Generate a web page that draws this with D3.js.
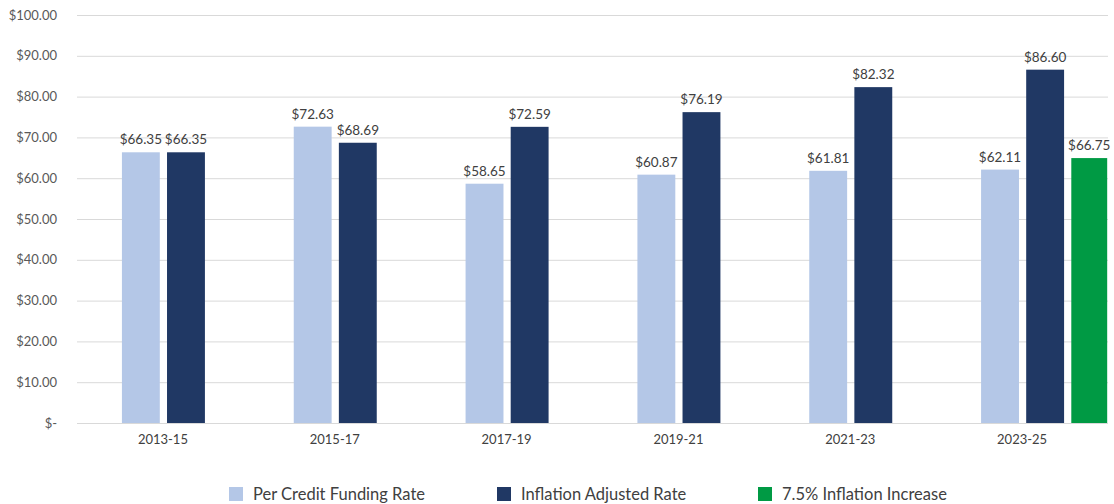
<!DOCTYPE html>
<html>
<head>
<meta charset="utf-8">
<script src="https://cdn.jsdelivr.net/npm/d3@7"></script>
<style>
  body { margin: 0; background: #fff; }
  text { font-family: Lato, "Open Sans", sans-serif; }
</style>
</head>
<body>
<svg id="chart"></svg>
<script>
// data
var periods = ['2013-15', '2015-17', '2017-19', '2019-21', '2021-23', '2023-25'];
var perCredit = [66.35, 72.63, 58.65, 60.87, 61.81, 62.11];
var inflationAdj = [66.35, 68.69, 72.59, 76.19, 82.32, 86.60];
var increasePeriod = ['2023-25'];
var increaseValue = [66.75];
var yTicks = [0, 10, 20, 30, 40, 50, 60, 70, 80, 90, 100];
var seriesNames = ['Per Credit Funding Rate', 'Inflation Adjusted Rate', '7.5% Inflation Increase'];
var colors = ['#b4c7e7', '#203864', '#009a44'];

var W = 1114, H = 504;
var margin = {top: 15, right: 6, bottom: 81, left: 77},
  width = W - margin.left - margin.right,
  height = H - margin.top - margin.bottom;

var svg = d3.select('#chart').attr('width', W).attr('height', H);
var g = svg.append('g').attr('transform', 'translate(' + margin.left + ',' + margin.top + ')');

var x0 = d3.scaleBand().domain(periods).range([0, width]);
var x1 = d3.scaleBand().domain([0, 1]).range([-41, 42]).paddingInner(0.16);
var y = d3.scaleLinear().domain([0, 100]).range([height, 0]);
// green series sits on a secondary (hidden) axis
var y2 = d3.scaleLinear().domain([0, 102.8]).range([height, 0]);

var money = function(v) { return v === 0 ? '$-' : '$' + d3.format('.2f')(v); };

// gridlines
g.append('g').selectAll('line')
  .data(yTicks)
  .enter().append('line')
  .attr('x1', 0).attr('x2', width)
  .attr('y1', function(d) { return y(d) + 0.5; })
  .attr('y2', function(d) { return y(d) + 0.5; })
  .attr('stroke', '#d9d9d9').attr('stroke-width', 1);

// y axis labels
var yAxis = d3.axisLeft(y).tickValues(yTicks).tickFormat(money).tickSize(0).tickPadding(20);
g.append('g').call(yAxis)
  .call(function(s) { s.select('.domain').remove(); })
  .selectAll('text')
  .attr('fill', '#595959').style('font-size', '13px');

// x axis labels
var xAxis = d3.axisBottom(x0).tickSize(0).tickPadding(12);
g.append('g').attr('transform', 'translate(0,' + height + ')').call(xAxis)
  .call(function(s) { s.select('.domain').remove(); })
  .selectAll('text')
  .attr('fill', '#404040').style('font-size', '13px');

var seriesList = [perCredit, inflationAdj];
var bw = x1.bandwidth();

seriesList.forEach(function(vals, si) {
  var grp = g.append('g');
  grp.selectAll('rect')
    .data(periods)
    .enter().append('rect')
    .attr('x', function(d) { return x0(d) + x0.bandwidth() / 2 + x1(si); })
    .attr('y', function(d, i) { return y(vals[i]); })
    .attr('width', bw)
    .attr('height', function(d, i) { return height - y(vals[i]); })
    .attr('fill', colors[si]);
  grp.selectAll('text')
    .data(periods)
    .enter().append('text')
    .attr('x', function(d) { return x0(d) + x0.bandwidth() / 2 + x1(si) + bw / 2; })
    .attr('y', function(d, i) { return y(vals[i]) - 8; })
    .attr('text-anchor', 'middle')
    .attr('fill', '#404040').style('font-size', '13.5px')
    .text(function(d, i) { return money(vals[i]); });
});

// green series
var gx = function(d) { return x0(d) + x0.bandwidth() / 2 + x1(1) + x1.step(); };
var gg = g.append('g');
gg.selectAll('rect')
  .data(increasePeriod)
  .enter().append('rect')
  .attr('x', gx)
  .attr('y', function(d, i) { return y2(increaseValue[i]); })
  .attr('width', bw - 2)
  .attr('height', function(d, i) { return height - y2(increaseValue[i]); })
  .attr('fill', colors[2]);
gg.selectAll('text')
  .data(increasePeriod)
  .enter().append('text')
  .attr('x', function(d) { return gx(d) + (bw - 2) / 2; })
  .attr('y', function(d, i) { return y2(increaseValue[i]) - 8; })
  .attr('text-anchor', 'middle')
  .attr('fill', '#404040').style('font-size', '13.5px')
  .text(function(d, i) { return money(increaseValue[i]); });

// legend
var legendX = [229, 497, 758];
var legend = svg.append('g').attr('transform', 'translate(0,487)');
legend.selectAll('rect')
  .data(seriesNames)
  .enter().append('rect')
  .attr('x', function(d, i) { return legendX[i]; })
  .attr('y', 0).attr('width', 14).attr('height', 14)
  .attr('fill', function(d, i) { return colors[i]; });
legend.selectAll('text')
  .data(seriesNames)
  .enter().append('text')
  .attr('x', function(d, i) { return legendX[i] + 24; })
  .attr('y', 13)
  .attr('fill', '#404040').style('font-size', '16.5px')
  .text(function(d) { return d; });
</script>
</body>
</html>
